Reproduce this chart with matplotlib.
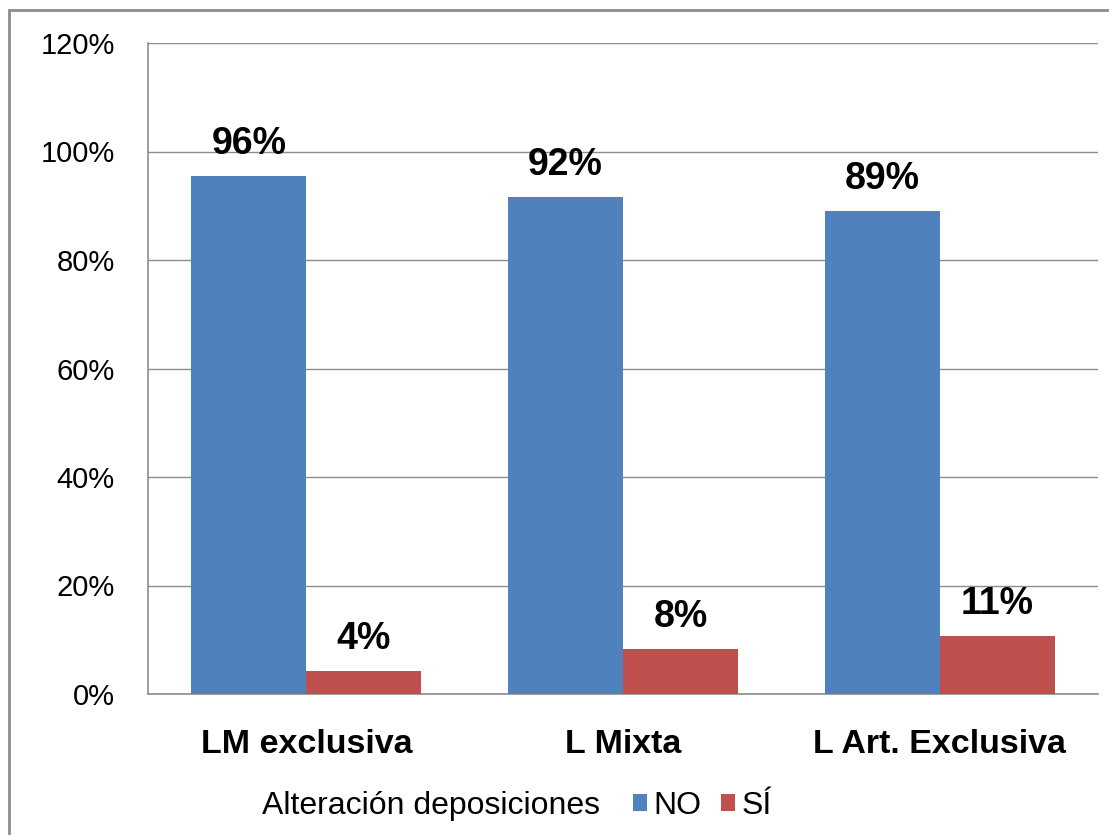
import numpy as np
import matplotlib
matplotlib.use('Agg')
import matplotlib.pyplot as plt
from matplotlib.patches import Rectangle

# data
categories = ['LM exclusiva', 'L Mixta', 'L Art. Exclusiva']
no_values = [95.5, 91.6, 89.0]
si_values = [4.2, 8.3, 10.7]
no_labels = ['96%', '92%', '89%']
si_labels = ['4%', '8%', '11%']
series_names = ['NO', 'SÍ']
legend_title = 'Alteración deposiciones'
yticks = [0, 20, 40, 60, 80, 100, 120]

plt.rcParams['font.family'] = ['Liberation Sans', 'DejaVu Sans']

fig = plt.figure(figsize=(11.09, 8.35), dpi=100)
ax = fig.add_axes([148 / 1109, 1 - 694 / 835, 950 / 1109, 651 / 835])

x = np.arange(len(categories))
w = 0.363
b1 = ax.bar(x - w / 2, no_values, w, color='#4F81BD', label=series_names[0], zorder=3)
b2 = ax.bar(x + w / 2, si_values, w, color='#C0504D', label=series_names[1], zorder=3)

for bars, labs in [(b1, no_labels), (b2, si_labels)]:
    for rect, lab in zip(bars, labs):
        ax.annotate(lab, (rect.get_x() + rect.get_width() / 2, rect.get_height()),
                    xytext=(0, 10), textcoords='offset points', ha='center', va='bottom',
                    fontsize=27, fontweight='bold', color='black')

ax.set_xlim(-0.5, 2.5)
ax.set_ylim(0, 120)
ax.set_yticks(yticks)
ax.set_yticklabels([f'{t}%' for t in yticks], fontsize=21)
ax.set_xticks(x)
ax.set_xticklabels(categories, fontsize=24.5, fontweight='bold')
ax.tick_params(axis='y', length=0, pad=24)
ax.tick_params(axis='x', length=0, pad=25)
ax.grid(axis='y', color='#8c8c8c', linewidth=1, zorder=0)
for s in ['top', 'right']:
    ax.spines[s].set_visible(False)
for s in ['left', 'bottom']:
    ax.spines[s].set_color('#8c8c8c')
    ax.spines[s].set_linewidth(1.2)

# legend at the bottom with the title inline
fig.text(262 / 1109, 1 - 806 / 835, legend_title, fontsize=23, va='center', ha='left')
leg = fig.legend(handles=[b1, b2], loc='center left', bbox_to_anchor=(633 / 1109, 1 - 806 / 835),
                 ncol=2, frameon=False, fontsize=23, handlelength=0.45, handleheight=0.45,
                 handletextpad=0.2, columnspacing=0.6, borderpad=0, borderaxespad=0)

# outer chart frame
fig.patches.append(Rectangle((9 / 1109, -0.2), 1.2, 1.2 - 10 / 835, transform=fig.transFigure,
                             fill=False, edgecolor='#8c8c8c', linewidth=2))

plt.savefig('out.png', dpi=100)
